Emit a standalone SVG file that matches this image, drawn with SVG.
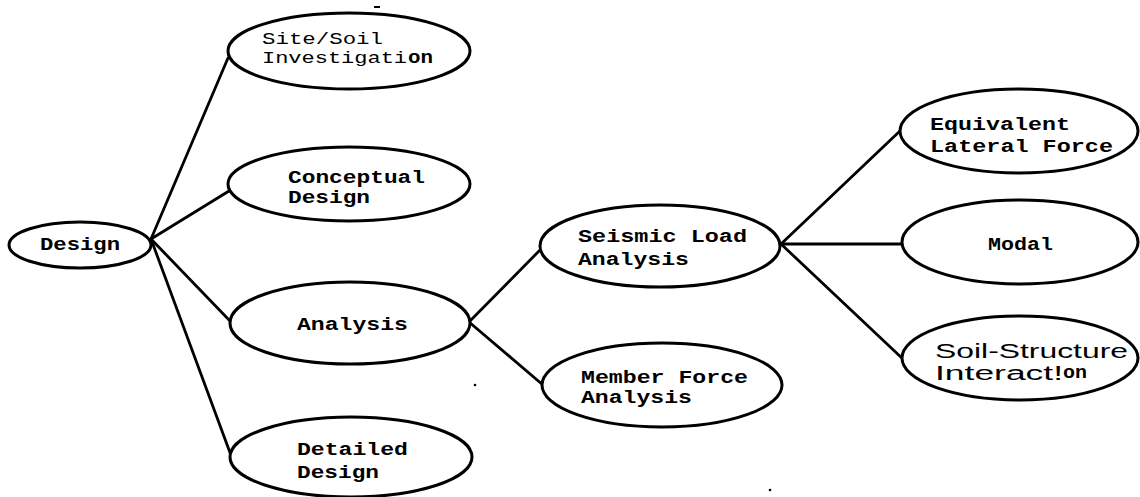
<svg xmlns="http://www.w3.org/2000/svg" width="1140" height="497" viewBox="0 0 1140 497">
<style>
.n{fill:#fff;stroke:#000;stroke-width:3}
.c line{stroke:#000;stroke-width:2.8;stroke-linecap:round}
.b{font-family:"Liberation Mono",monospace;font-weight:bold;font-size:18px;fill:#000}
.m{font-family:"Liberation Mono",monospace;font-size:16px;fill:#000}
.s{font-family:"Liberation Sans",Arial,sans-serif;font-size:20px;fill:#000}
</style>
<rect width="1140" height="497" fill="#fff"/>
<g class="c" id="connectors">
<line x1="151" y1="239" x2="228" y2="58"/>
<line x1="151" y1="239" x2="229" y2="191"/>
<line x1="151" y1="239" x2="231" y2="322"/>
<line x1="151" y1="239" x2="232" y2="458"/>
<line x1="469" y1="322" x2="541" y2="249"/>
<line x1="469" y1="322" x2="543" y2="385"/>
<line x1="781" y1="244" x2="901" y2="130"/>
<line x1="781" y1="244" x2="903" y2="244"/>
<line x1="781" y1="244" x2="904" y2="360"/>
</g>
<g id="design">
<ellipse class="n" cx="80" cy="245" rx="71" ry="23"/>
<text class="b" x="40" y="250" textLength="80" lengthAdjust="spacingAndGlyphs">Design</text>
</g>
<g id="site-soil">
<ellipse class="n" cx="349" cy="51" rx="121" ry="38"/>
<text class="m" x="262" y="44" textLength="121" lengthAdjust="spacingAndGlyphs">Site/Soil</text>
<text class="m" x="262" y="63" textLength="145" lengthAdjust="spacingAndGlyphs">Investigati</text>
<text class="b" x="408" y="63" font-size="15" textLength="25" lengthAdjust="spacingAndGlyphs">on</text>
</g>
<g id="conceptual">
<ellipse class="n" cx="349" cy="184" rx="121" ry="37"/>
<text class="b" x="288" y="183" textLength="137" lengthAdjust="spacingAndGlyphs">Conceptual</text>
<text class="b" x="288" y="203" textLength="82" lengthAdjust="spacingAndGlyphs">Design</text>
</g>
<g id="analysis">
<ellipse class="n" cx="350" cy="323" rx="120" ry="41"/>
<text class="b" x="297" y="330" textLength="111" lengthAdjust="spacingAndGlyphs">Analysis</text>
</g>
<g id="detailed">
<ellipse class="n" cx="351" cy="457" rx="121" ry="40"/>
<text class="b" x="297" y="455" textLength="111" lengthAdjust="spacingAndGlyphs">Detailed</text>
<text class="b" x="297" y="478" textLength="82" lengthAdjust="spacingAndGlyphs">Design</text>
</g>
<g id="seismic">
<ellipse class="n" cx="660" cy="246" rx="120" ry="41"/>
<text class="b" x="578" y="242" textLength="169" lengthAdjust="spacingAndGlyphs">Seismic Load</text>
<text class="b" x="578" y="265" textLength="111" lengthAdjust="spacingAndGlyphs">Analysis</text>
</g>
<g id="member">
<ellipse class="n" cx="662" cy="385" rx="120" ry="42"/>
<text class="b" x="581" y="383" textLength="167" lengthAdjust="spacingAndGlyphs">Member Force</text>
<text class="b" x="581" y="403" textLength="111" lengthAdjust="spacingAndGlyphs">Analysis</text>
</g>
<g id="equivalent">
<ellipse class="n" cx="1019" cy="131" rx="119" ry="42"/>
<text class="b" x="930" y="130" textLength="140" lengthAdjust="spacingAndGlyphs">Equivalent</text>
<text class="b" x="930" y="152" textLength="183" lengthAdjust="spacingAndGlyphs">Lateral Force</text>
</g>
<g id="modal">
<ellipse class="n" cx="1020" cy="242" rx="118" ry="42"/>
<text class="b" x="988" y="250" textLength="65" lengthAdjust="spacingAndGlyphs">Modal</text>
</g>
<g id="soil-structure">
<ellipse class="n" cx="1020" cy="358" rx="118" ry="42"/>
<text class="s" x="935" y="358" textLength="193" lengthAdjust="spacingAndGlyphs">Soil-Structure</text>
<text class="s" x="935" y="380" textLength="128" lengthAdjust="spacingAndGlyphs">Interact!</text>
<text class="b" x="1063" y="378" font-size="14" textLength="24" lengthAdjust="spacingAndGlyphs">on</text>
</g>
<circle cx="475" cy="385" r="1.3" fill="#000"/>
<circle cx="770" cy="490" r="1.3" fill="#000"/>
<rect x="374" y="6" width="6" height="2" fill="#000"/>
</svg>
